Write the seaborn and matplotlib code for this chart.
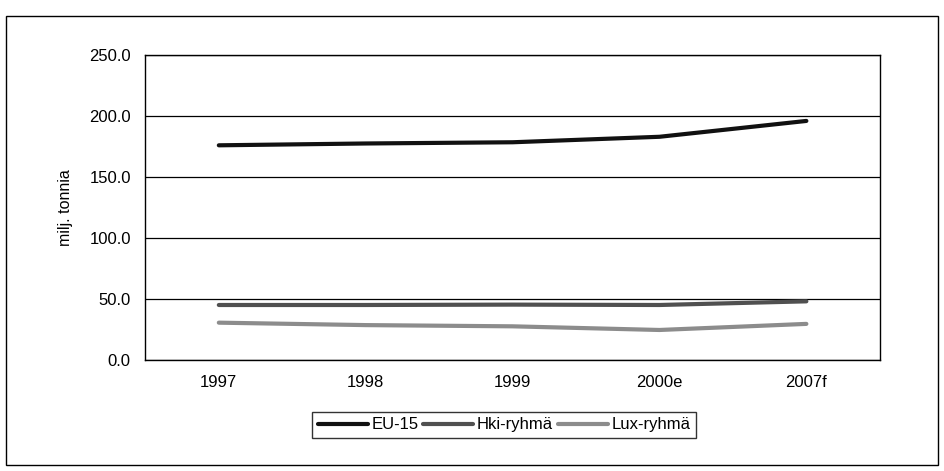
import pandas as pd
import matplotlib.pyplot as plt
import seaborn as sns
from matplotlib.patches import Rectangle
from matplotlib.ticker import FixedLocator

sns.set_theme(style="white")
plt.rcParams['font.family'] = ['Liberation Sans', 'DejaVu Sans']
plt.rcParams['text.color'] = 'black'
plt.rcParams['xtick.color'] = 'black'
plt.rcParams['ytick.color'] = 'black'
plt.rcParams['axes.labelcolor'] = 'black'

# Data (milj. tonnia)
years = ["1997", "1998", "1999", "2000e", "2007f"]
eu15 = [176.0, 177.5, 178.5, 183.0, 196.0]
hki = [45.0, 45.0, 45.3, 45.0, 48.0]
lux = [30.5, 28.5, 27.5, 24.5, 29.5]
series_names = ["EU-15", "Hki-ryhmä", "Lux-ryhmä"]
colors = {"EU-15": "#111111", "Hki-ryhmä": "#505050", "Lux-ryhmä": "#8c8c8c"}

df = pd.DataFrame({
    "Vuosi": years * 3,
    "Arvo": eu15 + hki + lux,
    "Ryhmä": [series_names[0]] * 5 + [series_names[1]] * 5 + [series_names[2]] * 5,
})

fig = plt.figure(figsize=(9.44, 4.71), dpi=100)
ax = fig.add_axes([0.154, 0.236, 0.778, 0.647])

sns.lineplot(data=df, x="Vuosi", y="Arvo", hue="Ryhmä", palette=colors,
             linewidth=3.0, sort=False, legend=False, ax=ax)

ax.set_xlim(-0.5, 4.5)
ax.set_ylim(0, 250)
ax.set_yticks([0, 50, 100, 150, 200, 250])
ax.set_yticklabels([f"{v:.1f}" for v in [0, 50, 100, 150, 200, 250]], fontsize=12)
ax.set_xticks(range(len(years)))
ax.set_xticklabels(years, fontsize=12)
ax.xaxis.set_minor_locator(FixedLocator([i - 0.5 for i in range(len(years) + 1)]))

ax.yaxis.grid(True, color="black", linewidth=0.9)
ax.set_axisbelow(True)
for s in ax.spines.values():
    s.set_color("black")
    s.set_linewidth(1.0)

ax.tick_params(axis="y", direction="inout", length=9, width=1, color="black", pad=6)
ax.tick_params(axis="x", which="major", length=0, pad=11)
ax.tick_params(axis="x", which="minor", direction="out", length=8, width=1, color="black")

ax.set_xlabel("")
ax.set_ylabel("milj. tonnia", fontsize=11.5, labelpad=12)

fig.legend(ax.lines[:3], series_names, loc="center", bbox_to_anchor=(0.534, 0.098),
           ncol=3, frameon=True, fancybox=False, edgecolor="black", fontsize=12,
           handlelength=3.0, handletextpad=0.2, columnspacing=0.3,
           borderpad=0.35, borderaxespad=0)
leg = fig.legends[0]
leg.get_frame().set_linewidth(1.0)

# outer chart border
fig.patches.append(Rectangle((0.006, 0.012), 0.988, 0.955, transform=fig.transFigure,
                             fill=False, edgecolor="black", linewidth=1.0))

fig.savefig("out.png", dpi=100, facecolor="white")
